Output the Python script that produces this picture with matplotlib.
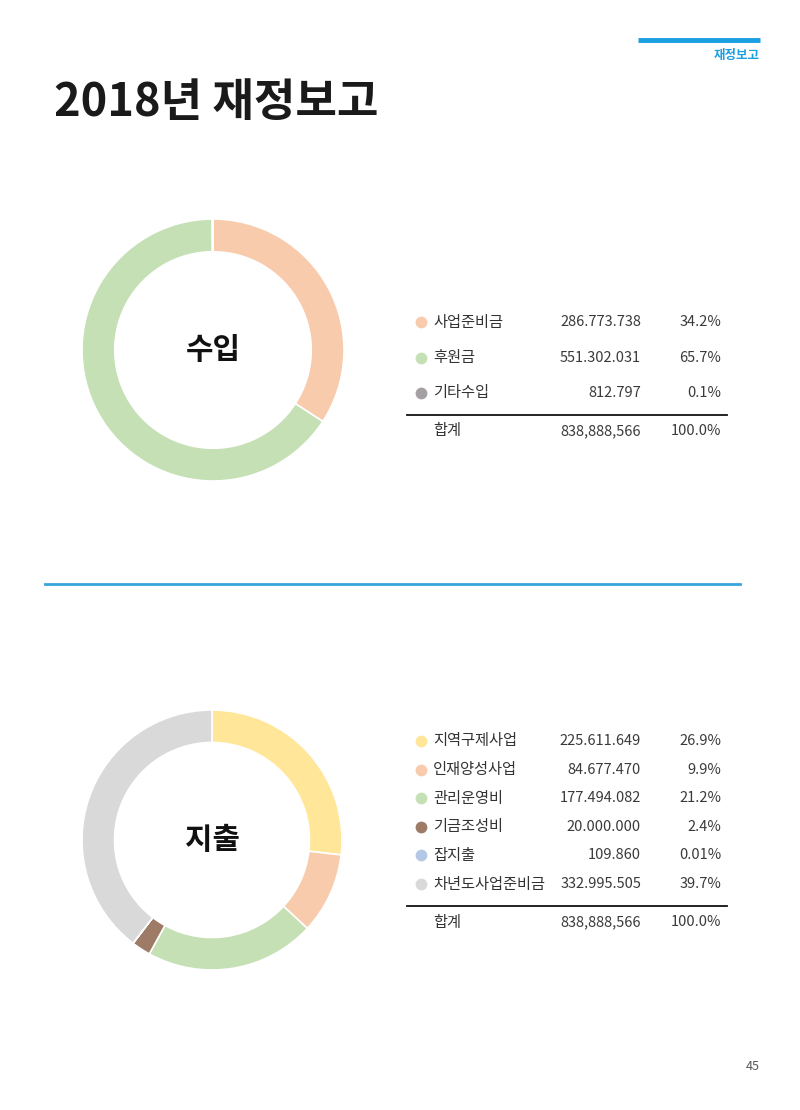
import matplotlib.pyplot as plt

plt.rcParams['font.family'] = ['Noto Sans CJK KR', 'DejaVu Sans']

# 수입 데이터
income_labels = ['사업준비금', '후원금', '기타수입']
income_values = [286773738, 551302031, 812797]
income_pct = ['34.2%', '65.7%', '0.1%']
income_colors = ['#f8cbad', '#c5e0b4', '#a5a0a3']
income_total = 838888566

# 지출 데이터
expense_labels = ['지역구제사업', '인재양성사업', '관리운영비', '기금조성비', '잡지출', '차년도사업준비금']
expense_values = [225611649, 84677470, 177494082, 20000000, 109860, 332995505]
expense_pct = ['26.9%', '9.9%', '21.2%', '2.4%', '0.01%', '39.7%']
expense_colors = ['#ffe699', '#f8cbad', '#c5e0b4', '#9e7b66', '#b4c7e7', '#d9d9d9']
expense_total = 838888566

W, H = 800, 1110
fig = plt.figure(figsize=(W / 100, H / 100), dpi=100)

# 페이지 전체 좌표계 (픽셀, 위에서 아래로)
page = fig.add_axes([0, 0, 1, 1])
page.set_xlim(0, W)
page.set_ylim(H, 0)
page.axis('off')


def donut(cx, cy, r, values, colors, center_text):
    ax = fig.add_axes([(cx - r) / W, 1 - (cy + r) / H, 2 * r / W, 2 * r / H])
    ax.pie(values, colors=colors, startangle=90, counterclock=False,
           radius=1, wedgeprops=dict(width=0.25, edgecolor='white', linewidth=1.2))
    ax.set_xlim(-1, 1)
    ax.set_ylim(-1, 1)
    ax.text(0, 0, center_text, ha='center', va='center', fontsize=21.5,
            fontweight='bold', color='#111111')


def table(y0, step, labels, values, pcts, colors, total, line_y):
    fs = 10.5
    for i, (lab, v, p, c) in enumerate(zip(labels, values, pcts, colors)):
        y = y0 + i * step
        page.scatter([421], [y], s=72, color=c, zorder=3, linewidths=0)
        page.text(433, y, lab, ha='left', va='center', fontsize=fs + 0.5, color='#333333')
        page.text(641, y, f'{v:,}'.replace(',', '.'), ha='right', va='center',
                  fontsize=fs, color='#3a3a3a')
        page.text(721, y, p, ha='right', va='center', fontsize=fs, color='#3a3a3a')
    page.plot([407, 727], [line_y, line_y], color='#111111', lw=1.3)
    page.text(433, line_y + 16, '합계', ha='left', va='center', fontsize=fs + 0.5, color='#333333')
    page.text(641, line_y + 16, f'{total:,}', ha='right', va='center',
              fontsize=fs, color='#3a3a3a')
    page.text(721, line_y + 16, '100.0%', ha='right', va='center',
              fontsize=fs, color='#3a3a3a')


# 상단 헤더
page.plot([638, 760], [40, 40], color='#1a9fe0', lw=3.5, solid_capstyle='butt')
page.text(760, 56, '재정보고', ha='right', va='center', fontsize=9,
          fontweight='bold', color='#1a9fe0')
page.text(54, 103, '2018년 재정보고', ha='left', va='center', fontsize=32.5,
          fontweight='bold', color='#1a1a1a')

donut(213, 350, 131, income_values, income_colors, '수입')
table(322, 35.5, income_labels, income_values, income_pct, income_colors,
      income_total, 415)

page.plot([45, 740], [584, 584], color='#3aa5dc', lw=2)

donut(212, 840, 130, expense_values, expense_colors, '지출')
table(741, 28.6, expense_labels, expense_values, expense_pct, expense_colors,
      expense_total, 906)

page.text(760, 1067, '45', ha='right', va='center', fontsize=9, color='#555555')

fig.savefig('out.png', dpi=100)
